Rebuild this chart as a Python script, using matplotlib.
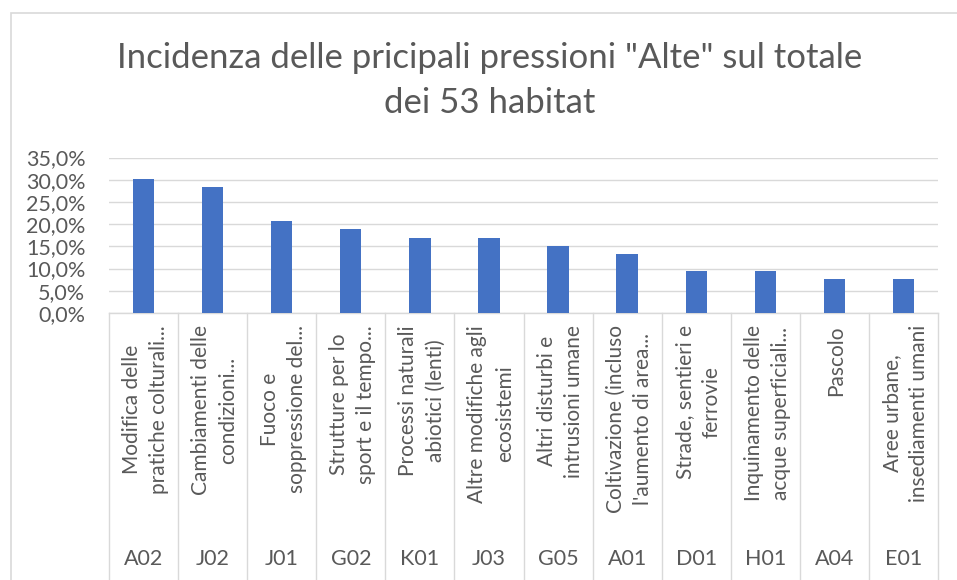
import matplotlib
matplotlib.use("Agg")
import matplotlib.pyplot as plt
from matplotlib.patches import Rectangle
from matplotlib.lines import Line2D
from matplotlib.ticker import FuncFormatter, MultipleLocator
import matplotlib.transforms as mtransforms

# Data
codes = ["A02", "J02", "J01", "G02", "K01", "J03", "G05", "A01", "D01", "H01", "A04", "E01"]
descriptions = [
    "Modifica delle\npratiche colturali...",
    "Cambiamenti delle\ncondizioni...",
    "Fuoco e\nsoppressione del...",
    "Strutture per lo\nsport e il tempo...",
    "Processi naturali\nabiotici (lenti)",
    "Altre modifiche agli\necosistemi",
    "Altri disturbi e\nintrusioni umane",
    "Coltivazione (incluso\nl'aumento di area...",
    "Strade, sentieri e\nferrovie",
    "Inquinamento delle\nacque superficiali...",
    "Pascolo",
    "Aree urbane,\ninsediamenti umani",
]
habitat_counts = [16, 15, 11, 10, 9, 9, 8, 7, 5, 5, 4, 4]
total_habitats = 53
shares = [c / total_habitats for c in habitat_counts]

TEXT_COLOR = "#595959"
GRID_COLOR = "#d9d9d9"
BAR_COLOR = "#4472C4"
FONT = "Lato"

plt.rcParams["font.family"] = [FONT, "DejaVu Sans"]

W, H = 957, 580
fig = plt.figure(figsize=(W / 100, H / 100), dpi=100)

# outer chart frame (cut off at right and bottom like the screenshot)
fig.patches.append(Rectangle((10.5 / W, -0.1), 1.2, 1.1 - 13.5 / H,
                             transform=fig.transFigure, fill=False,
                             edgecolor=GRID_COLOR, linewidth=1.2))

left, right = 109 / W, 938 / W
bottom, top = 1 - 313 / H, 1 - 157.5 / H
ax = fig.add_axes([left, bottom, right - left, top - bottom])

x = list(range(len(codes)))
ax.bar(x, shares, width=0.31, color=BAR_COLOR, zorder=3)

ax.set_xlim(-0.5, len(codes) - 0.5)
ax.set_ylim(0, 0.35)
ax.yaxis.set_major_locator(MultipleLocator(0.05))
ax.yaxis.set_major_formatter(FuncFormatter(lambda v, p: f"{v * 100:.1f}%".replace(".", ",")))
ax.tick_params(axis="y", length=0, pad=17, labelsize=15.5, labelcolor=TEXT_COLOR)
ax.set_xticks([])
ax.grid(axis="y", color=GRID_COLOR, linewidth=1, zorder=0)
for s in ["left", "right", "top"]:
    ax.spines[s].set_visible(False)
ax.spines["bottom"].set_color(GRID_COLOR)
ax.spines["bottom"].set_linewidth(1)

# category dividers below the axis
trans = mtransforms.blended_transform_factory(ax.transData, fig.transFigure)
for i in range(len(codes) + 1):
    fig.add_artist(Line2D([i - 0.5, i - 0.5], [bottom, 0], transform=trans,
                          color=GRID_COLOR, linewidth=1))

# two-level category labels
for i, (desc, code) in enumerate(zip(descriptions, codes)):
    fig.text(i + 0.03, 1 - 325 / H, desc, transform=trans, rotation=90,
             ha="center", va="top", multialignment="center",
             fontsize=15, color=TEXT_COLOR, linespacing=1.45)
    fig.text(i, 1 - 559 / H, code, transform=trans, ha="center", va="center",
             fontsize=15.5, color=TEXT_COLOR)

fig.text(0.512, 1 - 42 / H,
         "Incidenza delle pricipali pressioni \"Alte\" sul totale\ndei 53 habitat",
         ha="center", va="top", fontsize=25, color=TEXT_COLOR, linespacing=1.5)

fig.savefig("out.png", dpi=100)
